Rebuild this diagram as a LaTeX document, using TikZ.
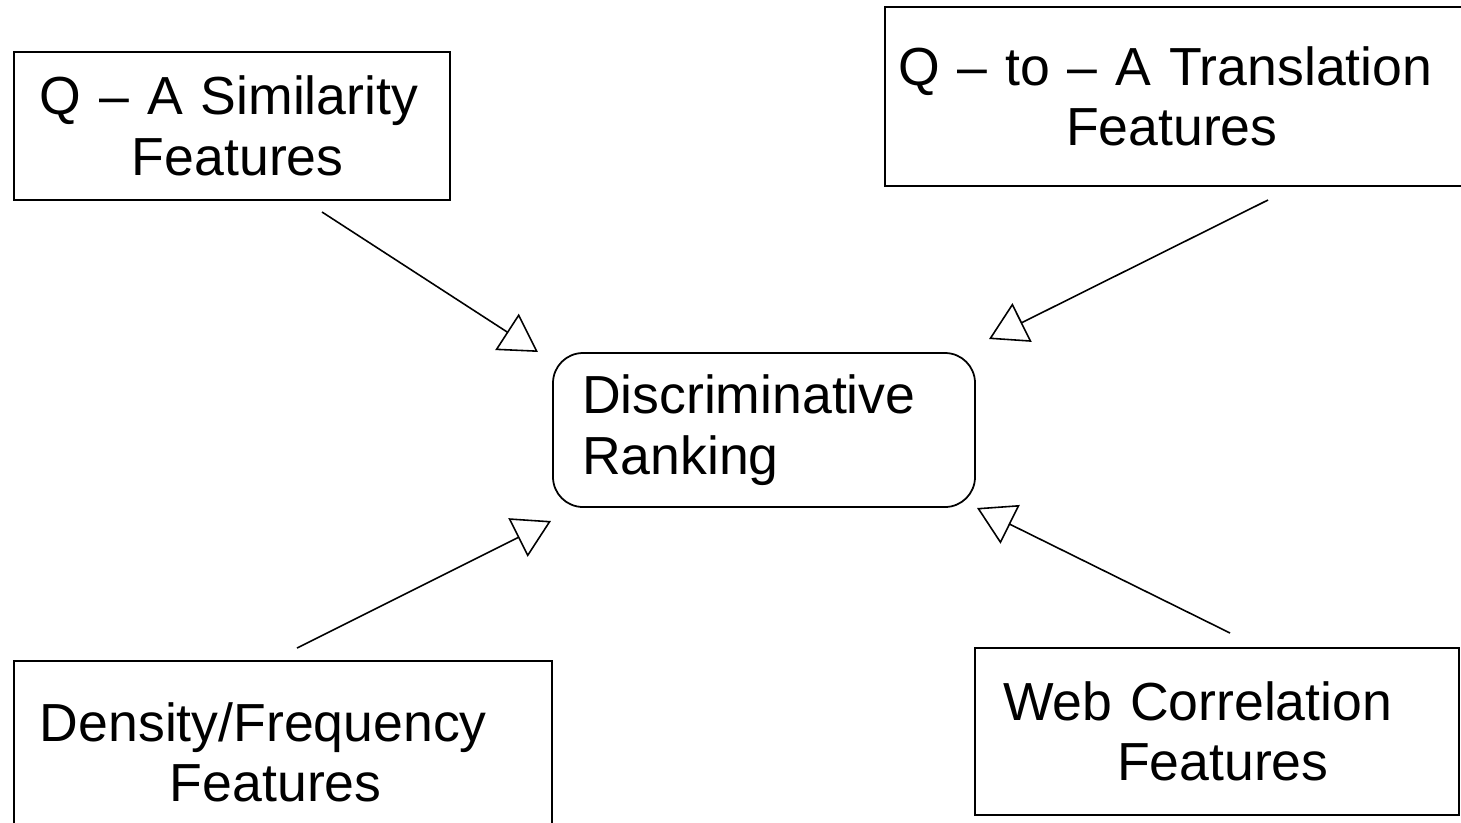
\documentclass[tikz,border=0pt]{standalone}
\usepackage{fontspec}
\setmainfont{Liberation Sans}
\usepackage{tikz}
\usetikzlibrary{positioning, arrows.meta}
\tikzstyle{block} = [draw, rectangle, line width=1pt,
    align=left, inner ysep=0pt]
\tikzstyle{rankblock} = [draw, rectangle, rounded corners=6mm, line width=1pt,
    align=left, inner xsep=5.8mm, inner ysep=0pt]
\tikzstyle{feed} = [line width=0.9pt,
    -{Triangle[open, length=7.4mm, width=8.6mm, line width=0.9pt]}]

\begin{document}
\begin{tikzpicture}[x=0.2mm, y=-0.2mm, font=\fontsize{30.5}{34.5}\selectfont]
        \useasboundingbox (0,0) rectangle (1461,822);
        \clip (0,0) rectangle (1461,822);

        \node[
            rankblock,
            text width=72.8mm,
            minimum height=30.8mm
        ](rank) at (764,430){Discriminative\\Ranking};

        \node[
            block,
            inner xsep=5.2mm,
            text width=76.8mm,
            minimum height=29.6mm
        ](qasim) at (232,126){Q -- A Similarity\\\hspace*{18.4mm}Features};

        % right side runs off the page
        \node[
            block,
            inner xsep=2.6mm,
            text width=112.8mm,
            minimum height=35.8mm
        ](qtoa) at (1180,96.5){Q -- to -- A Translation\\\hspace*{33.6mm}Features};

        % bottom side runs off the page
        \node[
            block,
            inner xsep=5.2mm,
            text width=97.2mm,
            minimum height=36.6mm
        ](dens) at (283,752.5){Density/Frequency\\\hspace*{26mm}Features};

        \node[
            block,
            inner xsep=5.6mm,
            text width=85.6mm,
            minimum height=33.4mm
        ](web) at (1217,731.5){Web Correlation\\\hspace*{22.8mm}Features};

        \coordinate (qasim-out) at (322,212);
        \coordinate (qasim-in) at (538,352);
        \coordinate (qtoa-out) at (1268,200);
        \coordinate (qtoa-in) at (989,339);
        \coordinate (dens-out) at (297,648);
        \coordinate (dens-in) at (551,521);
        \coordinate (web-out) at (1230,633);
        \coordinate (web-in) at (977,508);

        \draw[feed] (qasim-out) -- (qasim-in);
        \draw[feed] (qtoa-out) -- (qtoa-in);
        \draw[feed] (dens-out) -- (dens-in);
        \draw[feed] (web-out) -- (web-in);
    \end{tikzpicture}
\end{document}
